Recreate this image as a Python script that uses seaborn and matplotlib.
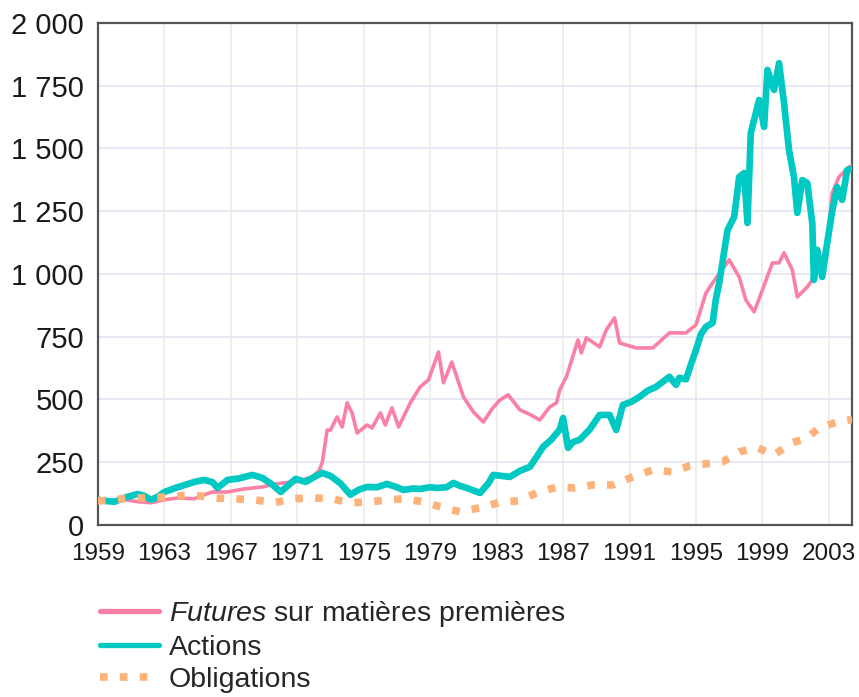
import matplotlib
matplotlib.use("Agg")
import matplotlib.pyplot as plt
import seaborn as sns
import pandas as pd

# ---------------- data ----------------
futures_years = [1959.0, 1960.0, 1960.7, 1961.4, 1962.2, 1963.0, 1963.8, 1964.8, 1965.4, 1965.9,
                 1966.8, 1967.8, 1968.9, 1969.5, 1970.1, 1970.9, 1971.9, 1972.3, 1972.5, 1972.8,
                 1973.0, 1973.4, 1973.7, 1974.0, 1974.3, 1974.6, 1975.2, 1975.5, 1976.0, 1976.3,
                 1976.7, 1977.1, 1977.8, 1978.4, 1978.9, 1979.5, 1979.8, 1980.3, 1981.0, 1981.6,
                 1982.2, 1982.7, 1983.2, 1983.7, 1984.4, 1985.0, 1985.6, 1986.2, 1986.6, 1986.8,
                 1987.2, 1987.9, 1988.1, 1988.4, 1989.2, 1989.6, 1990.1, 1990.4, 1991.4, 1992.4,
                 1993.4, 1994.4, 1995.0, 1995.6, 1996.0, 1997.0, 1997.6, 1998.0, 1998.5, 1999.0,
                 1999.6, 2000.0, 2000.3, 2000.8, 2001.1, 2001.7, 2002.0, 2002.5, 2002.9, 2003.2,
                 2003.6, 2004.2, 2004.4]
futures_values = [100, 98, 100, 92, 88, 100, 107, 104, 120, 131,
                  131, 143, 151, 160, 167, 171, 191, 215, 247, 378,
                  378, 430, 390, 486, 446, 366, 398, 386, 446, 398,
                  466, 390, 486, 550, 578, 689, 566, 649, 510, 450,
                  410, 460, 498, 518, 458, 440, 418, 470, 486, 538,
                  590, 737, 685, 745, 709, 777, 825, 725, 705, 705,
                  765, 765, 797, 924, 964, 1056, 988, 896, 849, 936,
                  1044, 1044, 1084, 1016, 908, 948, 976, 1030, 1124, 1322,
                  1386, 1426, 1430]

actions_years = [1959.0, 1959.5, 1960.0, 1960.7, 1961.4, 1961.8, 1962.2, 1962.6, 1963.0, 1963.8,
                 1964.8, 1965.4, 1965.9, 1966.2, 1966.8, 1967.5, 1968.3, 1968.9, 1969.5, 1970.0,
                 1970.5, 1970.9, 1971.5, 1972.0, 1972.5, 1973.0, 1973.6, 1974.2, 1974.7, 1975.2,
                 1975.8, 1976.4, 1977.0, 1977.4, 1978.0, 1978.4, 1979.0, 1979.4, 1980.0, 1980.4,
                 1980.8, 1981.2, 1982.0, 1982.5, 1982.8, 1983.3, 1983.8, 1984.4, 1985.0, 1985.4,
                 1985.8, 1986.3, 1986.8, 1987.0, 1987.3, 1987.6, 1988.0, 1988.6, 1989.2, 1989.8,
                 1990.2, 1990.6, 1991.1, 1991.6, 1992.1, 1992.6, 1993.0, 1993.4, 1993.8, 1994.0,
                 1994.4, 1994.7, 1995.0, 1995.3, 1995.6, 1996.0, 1996.2, 1996.4, 1996.9, 1997.3,
                 1997.6, 1997.9, 1998.1, 1998.3, 1998.8, 1999.1, 1999.3, 1999.7, 2000.0, 2000.3,
                 2000.6, 2000.9, 2001.1, 2001.4, 2001.7, 2002.0, 2002.1, 2002.3, 2002.6, 2002.9,
                 2003.2, 2003.5, 2003.8, 2004.1, 2004.4]
actions_values = [100, 95, 92, 110, 123, 115, 100, 112, 131, 150,
                  171, 179, 170, 147, 179, 185, 199, 187, 160, 131,
                  160, 183, 171, 190, 207, 195, 165, 120, 140, 151,
                  150, 163, 150, 139, 145, 143, 150, 147, 150, 167,
                  155, 147, 127, 165, 199, 195, 191, 215, 231, 270,
                  311, 340, 380, 426, 307, 330, 339, 380, 438, 438,
                  378, 478, 490, 510, 535, 550, 570, 590, 558, 586,
                  580, 640, 697, 760, 789, 805, 900, 964, 1175, 1227,
                  1386, 1402, 1203, 1562, 1693, 1586, 1813, 1733, 1840, 1681,
                  1494, 1386, 1243, 1374, 1362, 1203, 976, 1096, 988, 1124,
                  1250, 1346, 1295, 1414, 1420]

obligations_years = [1959.0, 1960.0, 1960.8, 1962.0, 1963.3, 1964.7, 1965.9, 1967.1, 1968.4, 1969.6,
                     1970.7, 1971.8, 1973.0, 1974.2, 1975.4, 1976.0, 1977.3, 1978.6, 1979.6, 1980.8,
                     1982.0, 1983.1, 1984.3, 1985.4, 1986.6, 1987.6, 1988.8, 1990.0, 1991.2, 1992.4,
                     1993.6, 1994.6, 1995.6, 1996.6, 1997.6, 1998.7, 1999.7, 2000.8, 2001.7, 2002.4,
                     2003.5, 2004.4]
obligations_values = [95, 100, 107, 107, 112, 120, 107, 104, 100, 88,
                      104, 107, 105, 88, 92, 96, 104, 92, 72, 52,
                      68, 88, 96, 127, 150, 147, 159, 159, 191, 219,
                      211, 235, 243, 251, 291, 307, 279, 327, 347, 386,
                      410, 420]

y_ticks = [0, 250, 500, 750, 1000, 1250, 1500, 1750, 2000]
y_tick_labels = ["0", "250", "500", "750", "1 000", "1 250", "1 500", "1 750", "2 000"]
x_ticks = [1959, 1963, 1967, 1971, 1975, 1979, 1983, 1987, 1991, 1995, 1999, 2003]

labels = [r"$\it{Futures}$ sur matières premières", "Actions", "Obligations"]

# ---------------- style ----------------
sns.set_theme(style="white")
plt.rcParams["font.family"] = ["Liberation Sans", "DejaVu Sans"]
plt.rcParams["mathtext.fontset"] = "custom"
plt.rcParams["mathtext.it"] = "Liberation Sans:italic"
plt.rcParams["mathtext.rm"] = "Liberation Sans"

PINK = "#FA80A6"
TEAL = "#00C8C2"
ORANGE = "#FDB27A"

fig = plt.figure(figsize=(8.59, 6.97), dpi=100)
ax = fig.add_axes([0.114, 0.247, 0.878, 0.720])

sns.lineplot(x=futures_years, y=futures_values, ax=ax, color=PINK, lw=2.6,
             estimator=None, sort=False, label=labels[0], zorder=3)
sns.lineplot(x=actions_years, y=actions_values, ax=ax, color=TEAL, lw=4.8,
             estimator=None, sort=False, label=labels[1], zorder=4)
sns.lineplot(x=obligations_years, y=obligations_values, ax=ax, color=ORANGE, lw=5.5,
             estimator=None, sort=False, label=labels[2], zorder=5,
             linestyle=(0, (1.0, 1.6)))

ax.set_xlim(1959, 2004.4)
ax.set_ylim(0, 2000)
ax.set_xticks(x_ticks)
ax.set_xticklabels([str(x) for x in x_ticks], fontsize=17.5)
ax.set_yticks(y_ticks)
ax.set_yticklabels(y_tick_labels, fontsize=21)
ax.tick_params(axis="both", length=0, colors="#1a1a1a")
ax.tick_params(axis="x", pad=13)
ax.tick_params(axis="y", pad=10)
ax.set_xlabel("")
ax.set_ylabel("")

ax.grid(True, axis="y", color="#E6E6F3", lw=1.3)
ax.grid(True, axis="x", color="#ECEDE4", lw=1.3)
ax.set_axisbelow(True)

for side in ["left", "bottom", "top", "right"]:
    ax.spines[side].set_visible(True)
    ax.spines[side].set_color("#555555")
    ax.spines[side].set_linewidth(1.6)

handles, lbls = ax.get_legend_handles_labels()
ax.get_legend().remove()
leg = fig.legend(handles, lbls, loc="upper left", bbox_to_anchor=(0.116, 0.140),
                 frameon=False, fontsize=20.5, handlelength=2.1, handletextpad=0.33,
                 labelspacing=0.2, borderaxespad=0, borderpad=0)
for h, w in zip(leg.get_lines(), [3.8, 3.8, 5.5]):
    h.set_linewidth(w)

fig.savefig("out.png", dpi=100)
